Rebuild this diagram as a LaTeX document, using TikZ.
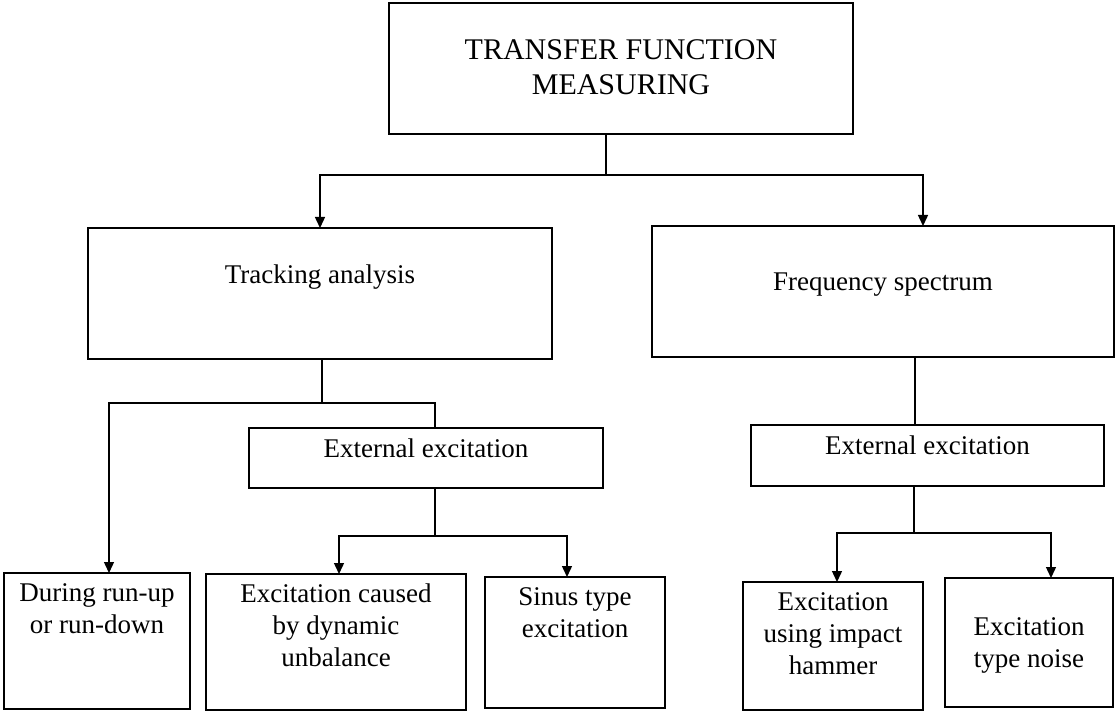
\documentclass[tikz,border=0pt]{standalone}
\usepackage{fontspec}
\setmainfont{Liberation Serif}
\usetikzlibrary{arrows.meta,positioning,calc}
\tikzset{
  box/.style={draw, line width=1.7pt, inner sep=0pt, outer sep=0pt, anchor=north west},
  txt/.style={inner sep=0pt, outer sep=0pt, align=center, font=\fontsize{27}{32}\selectfont},
  ttl/.style={inner sep=0pt, outer sep=0pt, align=center, font=\fontsize{30}{35}\selectfont},
  conn/.style={line width=1.4pt},
  arr/.style={line width=1.4pt, -{Triangle[length=11pt,width=10pt]}}
}
\begin{document}
\begin{tikzpicture}[x=1pt,y=-1pt]
\fill[white] (0,0) rectangle (1116,711);
\useasboundingbox (0,0) rectangle (1116,711);

% boxes
\node[box, minimum width=464pt, minimum height=131pt] (top) at (389,3) {};
\node[box, minimum width=464pt, minimum height=131pt] (track) at (88,228) {};
\node[box, minimum width=462pt, minimum height=131pt] (freq) at (652,226) {};
\node[box, minimum width=354pt, minimum height=60pt] (ext1) at (249,428) {};
\node[box, minimum width=353pt, minimum height=61pt] (ext2) at (751,425) {};
\node[box, minimum width=186pt, minimum height=136pt] (runup) at (4,573) {};
\node[box, minimum width=260pt, minimum height=136pt] (caused) at (206,574) {};
\node[box, minimum width=180pt, minimum height=131pt] (sinus) at (485,577) {};
\node[box, minimum width=180pt, minimum height=128pt] (impact) at (743,582) {};
\node[box, minimum width=168pt, minimum height=129pt] (noise) at (945,578) {};

% texts
\node[ttl, below=36.7pt of top.north] (top-t) {TRANSFER FUNCTION\\MEASURING};
\node[txt, below=36.6pt of track.north] (track-t) {Tracking analysis};
\node[txt, below=47pt of freq.north] (freq-t) {Frequency spectrum};
\node[txt, below=10.6pt of ext1.north] (ext1-t) {External excitation};
\node[txt, below=10.6pt of ext2.north] (ext2-t) {External excitation};
\node[txt, below=10.6pt of runup.north] (runup-t) {During run-up\\or run-down};
\node[txt, below=9.6pt of caused.north] (caused-t) {Excitation caused\\by dynamic\\unbalance};
\node[txt, below=10.6pt of sinus.north] (sinus-t) {Sinus type\\excitation};
\node[txt, below=10.6pt of impact.north] (impact-t) {Excitation\\using impact\\hammer};
\node[txt, below=39.6pt of noise.north] (noise-t) {Excitation\\type noise};

% level 1
\coordinate (j1) at (606,175);
\draw[conn] (top.south -| j1) -- (j1);
\draw[arr] (j1) -| (track.north);
\draw[arr] (j1) -| ($(freq.north)+(40,0)$);

% tracking branch
\coordinate (j2) at (322,403);
\draw[conn] (track.south -| j2) -- (j2);
\draw[arr] (j2) -| ($(runup.north)+(12,0)$);
\draw[conn] (j2) -| ($(ext1.north)+(9,0)$);

\coordinate (j3) at (435,536);
\draw[conn] (ext1.south -| j3) -- (j3);
\draw[arr] (j3) -| ($(caused.north)+(3,0)$);
\draw[arr] (j3) -| ($(sinus.north)+(-8,0)$);

% frequency branch
\coordinate (fstem) at ($(freq.south)+(32,0)$);
\draw[conn] (fstem) -- (ext2.north -| fstem);

\coordinate (j4) at (914,533);
\draw[conn] (ext2.south -| j4) -- (j4);
\draw[arr] (j4) -| ($(impact.north)+(4,0)$);
\draw[arr] (j4) -| ($(noise.north)+(22,0)$);
\end{tikzpicture}
\end{document}
